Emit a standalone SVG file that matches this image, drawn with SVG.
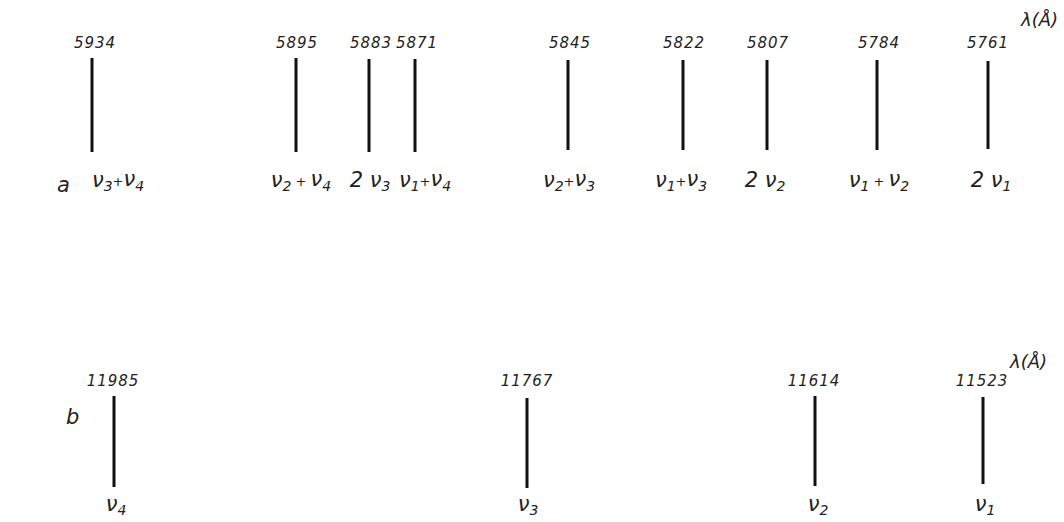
<svg xmlns="http://www.w3.org/2000/svg" width="1064" height="522" viewBox="0 0 1064 522">
<style>
.ln{stroke:#111;stroke-width:3;fill:none}
.num{font-family:"DejaVu Sans",sans-serif;font-style:italic;font-size:15px;letter-spacing:1px;fill:#222;text-anchor:middle}
.lab{font-family:"DejaVu Sans",sans-serif;font-style:italic;font-size:21px;fill:#222;text-anchor:middle}
.sub{font-size:14px}
.pl{font-size:13px}
.tag{font-family:"DejaVu Sans",sans-serif;font-style:italic;font-size:21px;fill:#222}
.unit{font-family:"DejaVu Sans",sans-serif;font-style:italic;font-size:18px;fill:#222}
</style>
<rect width="1064" height="522" fill="#fff"/>
<text class="tag" x="57" y="192">a</text>
<text class="tag" x="66" y="424">b</text>
<text class="unit" x="1021" y="26">λ(Å)</text>
<text class="unit" x="1010" y="368">λ(Å)</text>
<g id="a5934"><line class="ln" x1="92" y1="58" x2="92" y2="152"/><text class="num" x="95" y="48">5934</text><text class="lab" x="118" y="187">ν<tspan class="sub" dy="4">3</tspan><tspan class="pl" dy="-5">+</tspan>ν<tspan class="sub" dy="5">4</tspan></text></g>
<g id="a5895"><line class="ln" x1="296" y1="58" x2="296" y2="152"/><text class="num" x="297" y="48">5895</text><text class="lab" x="301" y="187">ν<tspan class="sub" dy="4">2</tspan><tspan class="pl" dy="-5"> + </tspan>ν<tspan class="sub" dy="5">4</tspan></text></g>
<g id="a5883"><line class="ln" x1="369" y1="59" x2="369" y2="152"/><text class="num" x="371" y="48">5883</text><text class="lab" x="370" y="187">2 ν<tspan class="sub" dy="4">3</tspan></text></g>
<g id="a5871"><line class="ln" x1="415" y1="59" x2="415" y2="152"/><text class="num" x="417" y="48">5871</text><text class="lab" x="425" y="187">ν<tspan class="sub" dy="4">1</tspan><tspan class="pl" dy="-5">+</tspan>ν<tspan class="sub" dy="5">4</tspan></text></g>
<g id="a5845"><line class="ln" x1="568" y1="60" x2="568" y2="150"/><text class="num" x="570" y="48">5845</text><text class="lab" x="569" y="187">ν<tspan class="sub" dy="4">2</tspan><tspan class="pl" dy="-5">+</tspan>ν<tspan class="sub" dy="5">3</tspan></text></g>
<g id="a5822"><line class="ln" x1="683" y1="60" x2="683" y2="150"/><text class="num" x="684" y="48">5822</text><text class="lab" x="681" y="187">ν<tspan class="sub" dy="4">1</tspan><tspan class="pl" dy="-5">+</tspan>ν<tspan class="sub" dy="5">3</tspan></text></g>
<g id="a5807"><line class="ln" x1="767" y1="60" x2="767" y2="150"/><text class="num" x="768" y="48">5807</text><text class="lab" x="765" y="187">2 ν<tspan class="sub" dy="4">2</tspan></text></g>
<g id="a5784"><line class="ln" x1="877" y1="60" x2="877" y2="150"/><text class="num" x="879" y="48">5784</text><text class="lab" x="879" y="187">ν<tspan class="sub" dy="4">1</tspan><tspan class="pl" dy="-5"> + </tspan>ν<tspan class="sub" dy="5">2</tspan></text></g>
<g id="a5761"><line class="ln" x1="988" y1="61" x2="988" y2="149"/><text class="num" x="988" y="48">5761</text><text class="lab" x="991" y="187">2 ν<tspan class="sub" dy="4">1</tspan></text></g>
<g id="b11985"><line class="ln" x1="114" y1="396" x2="114" y2="487"/><text class="num" x="113" y="386">11985</text><text class="lab" x="116" y="511">ν<tspan class="sub" dy="4">4</tspan></text></g>
<g id="b11767"><line class="ln" x1="527" y1="398" x2="527" y2="488"/><text class="num" x="527" y="386">11767</text><text class="lab" x="528" y="511">ν<tspan class="sub" dy="4">3</tspan></text></g>
<g id="b11614"><line class="ln" x1="815" y1="396" x2="815" y2="486"/><text class="num" x="814" y="386">11614</text><text class="lab" x="818" y="511">ν<tspan class="sub" dy="4">2</tspan></text></g>
<g id="b11523"><line class="ln" x1="983" y1="397" x2="983" y2="484"/><text class="num" x="982" y="386">11523</text><text class="lab" x="985" y="511">ν<tspan class="sub" dy="4">1</tspan></text></g>
</svg>
